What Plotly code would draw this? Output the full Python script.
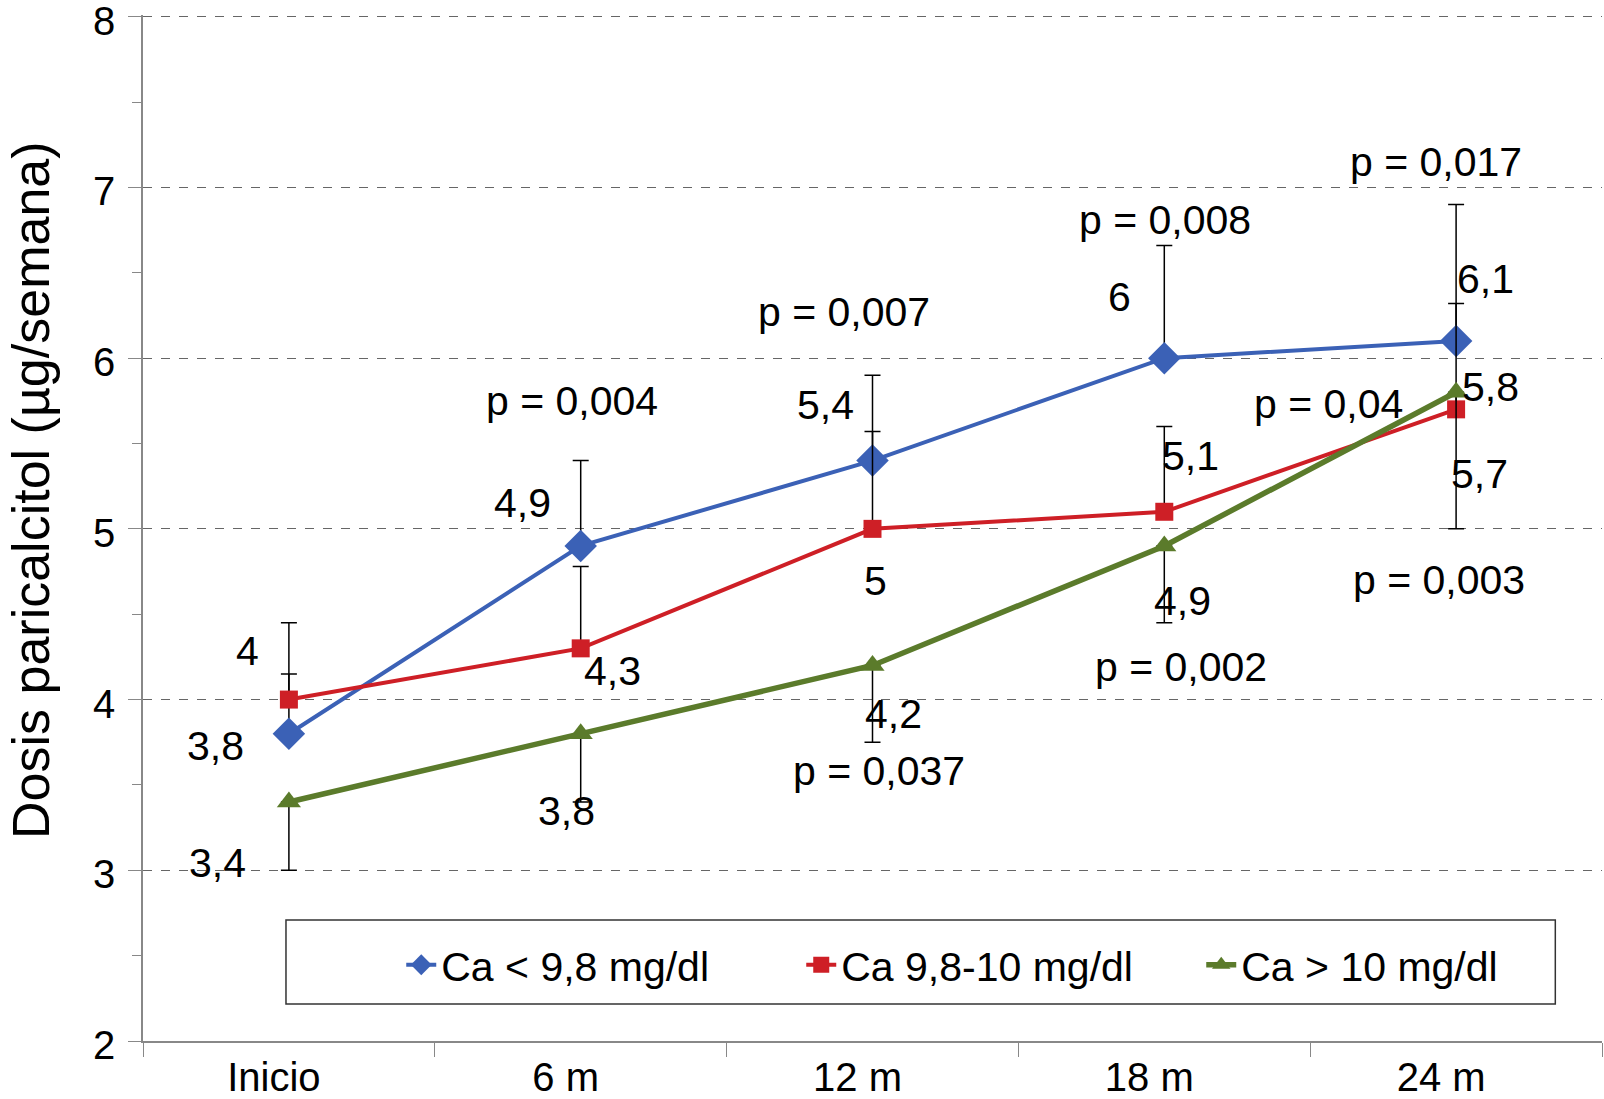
import plotly.graph_objects as go

# Data
categories = ["Inicio", "6 m", "12 m", "18 m", "24 m"]

ca_low = [3.8, 4.9, 5.4, 6.0, 6.1]        # Ca < 9,8 mg/dl
ca_mid = [4.0, 4.3, 5.0, 5.1, 5.7]        # Ca 9,8-10 mg/dl
ca_high = [3.4, 3.8, 4.2, 4.9, 5.8]       # Ca > 10 mg/dl

err_low = [0.35, 0.5, 0.5, 0.66, 0.8]     # upward error bars
err_mid = [0.45, 0.48, 0.57, 0.5, 0.62]   # upward error bars
err_high = [0.4, 0.4, 0.45, 0.45, 0.8]    # downward error bars

p_values = ["p = 0,004", "p = 0,007", "p = 0,008", "p = 0,017",
            "p = 0,04", "p = 0,003", "p = 0,002", "p = 0,037"]

series_names = ["Ca < 9,8 mg/dl", "Ca 9,8-10 mg/dl", "Ca > 10 mg/dl"]

FONT = "Liberation Sans, Arial, sans-serif"
colors = ["#3B61B6", "#CE1F26", "#5B7B2B"]

fig = go.Figure()

fig.add_trace(go.Scatter(
    x=categories, y=ca_low, name=series_names[0], mode="lines+markers",
    line=dict(color=colors[0], width=4),
    marker=dict(symbol="diamond", size=25, color=colors[0]),
    error_y=dict(type="data", symmetric=False, array=err_low,
                 arrayminus=[0] * 5, color="black", thickness=1.5, width=8),
))
fig.add_trace(go.Scatter(
    x=categories, y=ca_mid, name=series_names[1], mode="lines+markers",
    line=dict(color=colors[1], width=4),
    marker=dict(symbol="square", size=18, color=colors[1]),
    error_y=dict(type="data", symmetric=False, array=err_mid,
                 arrayminus=[0] * 5, color="black", thickness=1.5, width=8),
))
fig.add_trace(go.Scatter(
    x=categories, y=ca_high, name=series_names[2], mode="lines+markers",
    line=dict(color=colors[2], width=5.5),
    marker=dict(symbol="triangle-up", size=21, color=colors[2]),
    error_y=dict(type="data", symmetric=False, array=[0] * 5,
                 arrayminus=err_high, color="black", thickness=1.5, width=8),
))

# value labels, offsets in pixels relative to each point
label_shifts = {
    0: [(-73, -12), (-58, 43), (-47, 56), (-45, 61), (29, 62)],
    1: [(-41, 49), (32, -23), (3, -52), (26, 56), (23, -65)],
    2: [(-71, -61), (-14, -77), (21, -49), (18, -55), (34, 5)],
}
annotations = []
for s, vals in enumerate([ca_low, ca_mid, ca_high]):
    for i, v in enumerate(vals):
        dx, dy = label_shifts[s][i]
        annotations.append(dict(
            x=categories[i], y=v, text=f"{v:g}".replace(".", ","),
            showarrow=False, xshift=dx, yshift=dy,
            xanchor="center", yanchor="middle",
            font=dict(family=FONT, size=41, color="black"),
        ))

# p-value placement (category index, y position, x pixel offset)
p_place = [(1, 5.75, -9), (2, 6.27, -29), (3, 6.81, 1), (4, 7.15, -20),
           (4, 5.73, -128), (4, 4.70, -17), (3, 4.19, 17), (2, 3.58, 6)]
for txt, (ci, yy, dx) in zip(p_values, p_place):
    annotations.append(dict(
        x=categories[ci], y=yy, text=txt, showarrow=False, xshift=dx,
        xanchor="center", yanchor="middle",
        font=dict(family=FONT, size=41, color="black"),
    ))

# y axis title
annotations.append(dict(
    x=-0.0768, y=0.537, xref="paper", yref="paper", textangle=-90,
    xanchor="center", yanchor="middle",
    text="Dosis paricalcitol (µg/semana)", showarrow=False,
    font=dict(family=FONT, size=52, color="black"),
))

fig.update_layout(
    width=1604, height=1099,
    margin=dict(l=143, r=2, t=15, b=58),
    plot_bgcolor="white", paper_bgcolor="white",
    font=dict(family=FONT, color="black"),
    annotations=annotations,
    legend=dict(orientation="h", x=0.177, y=0.074, xanchor="left",
                yanchor="middle", bgcolor="rgba(0,0,0,0)", borderwidth=0,
                entrywidth=355, entrywidthmode="pixels",
                font=dict(family=FONT, size=41, color="black")),
    shapes=[dict(type="rect", xref="paper", yref="paper",
                 x0=0.098, x1=0.968, y0=0.036, y1=0.118,
                 line=dict(color="#333333", width=1.5))],
)

fig.update_xaxes(
    type="category", range=[-0.5, 4.5], showgrid=False, showline=True,
    linecolor="#888888", linewidth=1.5, ticks="outside",
    tickson="boundaries", ticklen=14, tickcolor="#888888",
    ticklabelshift=-15, automargin=False,
    tickfont=dict(family=FONT, size=40, color="black"), zeroline=False,
)
fig.update_yaxes(
    range=[2, 8.01], dtick=1, showline=True, linecolor="#888888",
    linewidth=1.5, ticks="outside", ticklen=13, tickcolor="#888888",
    ticklabeloverflow="allow", ticklabelstandoff=5, ticklabelshift=4,
    automargin=False,
    tickfont=dict(family=FONT, size=40, color="black"),
    showgrid=True, gridcolor="#666666", gridwidth=1, griddash="dash",
    minor=dict(dtick=0.5, ticks="outside", ticklen=9, tickcolor="#888888",
               showgrid=False),
    zeroline=False,
)

# drop the browser's default page margin so the figure sits at the corner
fig.write_html("out.html", config={"displayModeBar": False},
               post_script="document.body.style.margin = '0';")
